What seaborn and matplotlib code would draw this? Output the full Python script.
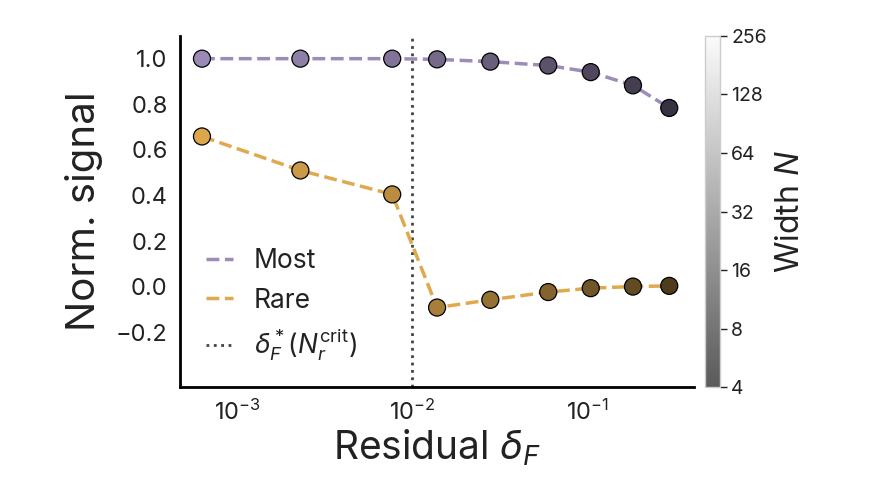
import matplotlib
matplotlib.use("Agg")
import matplotlib.colors as clr
import matplotlib.pyplot as plt
import numpy as np
import pandas as pd
import seaborn as sb
from matplotlib.ticker import FixedLocator, NullLocator, FixedFormatter

# residual values (x) and normalised signals
residual = [6.3e-4, 2.3e-3, 7.7e-3, 1.39e-2, 2.8e-2, 6.0e-2, 1.05e-1, 1.83e-1, 2.95e-1]
most = [1.0, 1.0, 1.0, 0.997, 0.987, 0.970, 0.941, 0.883, 0.784]
rare = [0.659, 0.510, 0.405, -0.091, -0.057, -0.023, -0.006, 0.001, 0.004]
width_n = [256, 152, 90, 54, 32, 19, 11, 7, 4]
cbar_ticks = [4, 8, 16, 32, 64, 128, 256]
delta_crit = 1e-2

most_color = "#9d8cb8"
rare_color = "#e0a94e"

sb.set_style("white")
plt.rcParams["font.family"] = ["Inter", "DejaVu Sans"]
plt.rcParams["mathtext.fontset"] = "custom"
plt.rcParams["mathtext.rm"] = "Inter"
plt.rcParams["mathtext.it"] = "Inter:italic"
plt.rcParams["mathtext.bf"] = "Inter:bold"
plt.rcParams["axes.unicode_minus"] = True

df = pd.DataFrame({"residual": residual, "Most": most, "Rare": rare, "N": width_n})

# grey map used for the width colorbar, markers are the line colour shaded by it
cmap = clr.LinearSegmentedColormap.from_list("widths", ["#5a5a5a", "#fbfbfb"])
norm = clr.LogNorm(vmin=4, vmax=256)

fig = plt.figure(figsize=(8.74, 4.78), dpi=100)
ax = fig.add_axes([0.206, 0.190, 0.588, 0.735])

for name, col in [("Most", most_color), ("Rare", rare_color)]:
    sb.lineplot(data=df, x="residual", y=name, ax=ax, color=col, lw=2.5,
                linestyle="--", label=name, zorder=2)
    shade = np.array([cmap(norm(n))[0] for n in df["N"]])
    base = np.array(clr.to_rgb(col))
    face = [tuple(base * s) for s in shade]
    ax.scatter(df["residual"], df[name], s=150, c=face, edgecolors="black",
               linewidths=0.9, zorder=3)

ax.axvline(delta_crit, color="#444444", linestyle=":", lw=2,
           label=r"$\delta_F^*(N_r^{\mathrm{crit}})$", zorder=1)

ax.set_xscale("log")
ax.set_xlim(10 ** -3.326, 10 ** -0.389)
ax.set_ylim(-0.44, 1.10)
ax.set_yticks([-0.2, 0.0, 0.2, 0.4, 0.6, 0.8, 1.0])
ax.xaxis.set_minor_locator(NullLocator())
ax.tick_params(axis="both", length=0, labelsize=17, pad=9, colors="#222222")
ax.set_xlabel(r"Residual $\delta_F$", fontsize=28, color="#222222", labelpad=2)
ax.set_ylabel("Norm. signal", fontsize=29, color="#222222", labelpad=9)
for side in ["top", "right"]:
    ax.spines[side].set_visible(False)
for side in ["left", "bottom"]:
    ax.spines[side].set_linewidth(2)
    ax.spines[side].set_color("black")

leg = ax.legend(loc="lower left", frameon=False, fontsize=19, handlelength=1.0,
                bbox_to_anchor=(0.005, 0.0), labelspacing=0.5, handletextpad=0.8)
for t in leg.get_texts():
    t.set_color("#222222")

cax = fig.add_axes([0.807, 0.190, 0.017, 0.735])
sm = plt.cm.ScalarMappable(norm=norm, cmap=cmap)
cb = fig.colorbar(sm, cax=cax)
cb.outline.set_edgecolor("#cccccc")
cb.outline.set_linewidth(1)
cax.yaxis.set_major_locator(FixedLocator(cbar_ticks))
cax.yaxis.set_major_formatter(FixedFormatter([str(t) for t in cbar_ticks]))
cax.yaxis.set_minor_locator(NullLocator())
cax.tick_params(length=5, width=1, labelsize=14, colors="#222222", pad=3)
cb.set_label(r"Width $N$", fontsize=23, color="#222222", labelpad=6)

fig.savefig("out.png", dpi=100)
